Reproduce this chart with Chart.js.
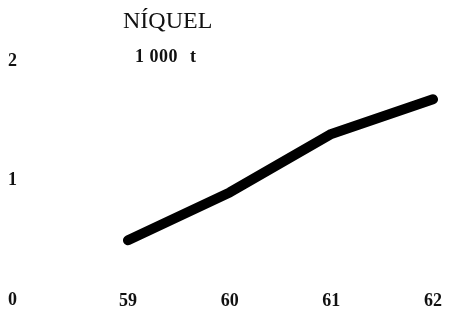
<!DOCTYPE html>
<html>
<head>
<meta charset="utf-8">
<script src="https://cdn.jsdelivr.net/npm/chart.js@4.4.0/dist/chart.umd.min.js"></script>
<style>
  body { margin: 0; background: #fff; }
  #wrap { position: relative; width: 455px; height: 311px; }
  .lbl { position: absolute; font-family: "Liberation Serif", serif; color: #111; white-space: pre; }
  #title { left: 123px; top: 6px; font-size: 24px; line-height: 28px; }
  .unit { top: 46px; font-size: 18px; line-height: 20px; font-weight: bold; letter-spacing: 0.5px; }
  #unit1 { left: 135px; }
  #unit2 { left: 190px; }
</style>
</head>
<body>
<div id="wrap">
  <canvas id="niquel" width="455" height="311"></canvas>
  <div class="lbl" id="title">NÍQUEL</div>
  <div class="lbl unit" id="unit1">1 000</div>
  <div class="lbl unit" id="unit2">t</div>
</div>
<script>
const years = ['59', '60', '61', '62'];
const niquelValues = [0.5, 0.9, 1.39, 1.68];
const yTicks = [0, 1, 2];

const tickFont = { family: 'Liberation Serif', size: 18, weight: 'bold' };

const ctx = document.getElementById('niquel').getContext('2d');
new Chart(ctx, {
  type: 'line',
  data: {
    labels: years,
    datasets: [{
      label: 'Níquel',
      data: niquelValues,
      borderColor: '#000',
      borderWidth: 10,
      borderCapStyle: 'round',
      borderJoinStyle: 'round',
      pointRadius: 0,
      tension: 0,
      fill: false
    }]
  },
  options: {
    responsive: false,
    maintainAspectRatio: false,
    animation: false,
    layout: {
      padding: { left: 8, right: 22, top: 61, bottom: 0 }
    },
    plugins: {
      legend: { display: false },
      tooltip: { enabled: false }
    },
    scales: {
      x: {
        type: 'category',
        offset: false,
        grid: { display: false, drawTicks: false },
        border: { display: false },
        // labels sit on the same row as the "0" of the y axis
        afterFit: function(scale) {
          scale.height = 11;
        },
        ticks: { color: '#111', font: tickFont, mirror: true, padding: -12, maxRotation: 0 }
      },
      y: {
        min: yTicks[0],
        max: yTicks[yTicks.length - 1],
        grid: { display: false, drawTicks: false },
        border: { display: false },
        afterBuildTicks: function(scale) {
          scale.ticks = yTicks.map(function(v) { return { value: v }; });
        },
        afterFit: function(scale) {
          scale.width = 120;
        },
        ticks: { color: '#111', font: tickFont, crossAlign: 'far', padding: 0 }
      }
    }
  }
});
</script>
</body>
</html>
